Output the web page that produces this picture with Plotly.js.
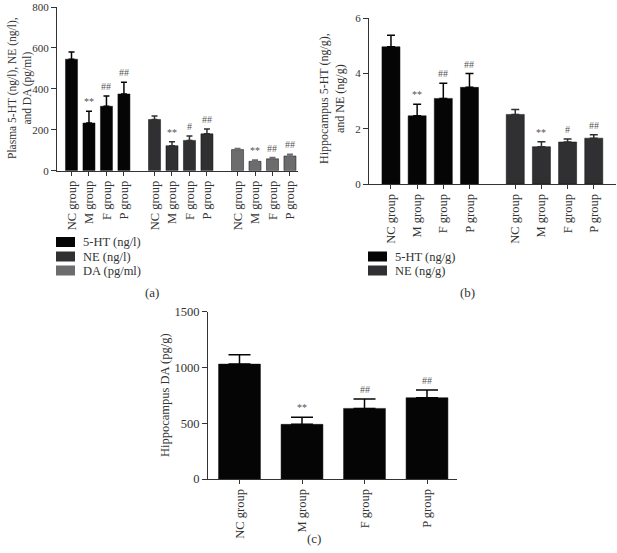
<!DOCTYPE html>
<html>
<head>
<meta charset="utf-8">
<script src="https://cdn.plot.ly/plotly-3.0.1.min.js"></script>
<style>
  html, body { margin: 0; padding: 0; background: #fff; }
  #chart { width: 617px; height: 553px; }
</style>
</head>
<body>
<div id="chart"></div>
<script>
// groups on the x axis
const groups = ['NC group', 'M group', 'F group', 'P group'];

// (a) plasma
const plasmaNames = ['5-HT (ng/l)', 'NE (ng/l)', 'DA (pg/ml)'];
const plasma5ht = [545, 233, 315, 375];
const plasma5htErr = [35, 57, 50, 57];
const plasmaNe = [250, 122, 148, 180];
const plasmaNeErr = [17, 20, 21, 24];
const plasmaDa = [103, 46, 58, 72];
const plasmaDaErr = [6, 6, 6, 9];
const plasmaSig = [
  ['', '**', '##', '##'],
  ['', '**', '#', '##'],
  ['', '**', '##', '##']
];

// (b) hippocampus 5-HT and NE
const hippoNames = ['5-HT (ng/g)', 'NE (ng/g)'];
const hippo5ht = [4.97, 2.47, 3.1, 3.5];
const hippo5htErr = [0.42, 0.42, 0.55, 0.5];
const hippoNe = [2.52, 1.35, 1.52, 1.66];
const hippoNeErr = [0.18, 0.18, 0.11, 0.12];
const hippoSig = [
  ['', '**', '##', '##'],
  ['', '**', '#', '##']
];

// (c) hippocampus DA
const hippoDa = [1030, 490, 633, 729];
const hippoDaErr = [85, 63, 85, 68];
const hippoDaSig = ['', '**', '##', '##'];

const colors = ['#050505', '#303032', '#6c6c6e'];
const FONT = 'Liberation Serif';
const W = 617, H = 553;
const px = x => x / W;
const py = y => 1 - y / H;
const GROUP_STEP = 4.75;

const traces = [];
const annotations = [];
const shapes = [];

function addSeries(vals, errs, sig, gi, color, xa, ya, width, capw) {
  const xs = vals.map((v, j) => gi * GROUP_STEP + j);
  traces.push({
    type: 'bar', x: xs, y: vals, xaxis: xa, yaxis: ya, width: width,
    marker: { color: color, line: { color: '#111', width: 0.5 } },
    error_y: { type: 'data', symmetric: false, array: errs,
               arrayminus: errs.map(() => 0), color: color, thickness: 1.5, width: capw },
    showlegend: false, hoverinfo: 'skip'
  });
  sig.forEach((s, j) => {
    if (!s) return;
    annotations.push({
      xref: xa, yref: ya, x: xs[j], y: vals[j] + errs[j], text: s,
      showarrow: false, yanchor: 'bottom', yshift: 2,
      font: { family: FONT, size: 10, color: '#555' }
    });
  });
}

// panel a
addSeries(plasma5ht, plasma5htErr, plasmaSig[0], 0, colors[0], 'x', 'y', 0.69, 3);
addSeries(plasmaNe, plasmaNeErr, plasmaSig[1], 1, colors[1], 'x', 'y', 0.69, 3);
addSeries(plasmaDa, plasmaDaErr, plasmaSig[2], 2, colors[2], 'x', 'y', 0.69, 3);
// panel b
addSeries(hippo5ht, hippo5htErr, hippoSig[0], 0, colors[0], 'x2', 'y2', 0.69, 4);
addSeries(hippoNe, hippoNeErr, hippoSig[1], 1, colors[1], 'x2', 'y2', 0.69, 4);
// panel c
traces.push({
  type: 'bar', x: groups.map((g, j) => j), y: hippoDa, xaxis: 'x3', yaxis: 'y3', width: 0.67,
  marker: { color: colors[0], line: { color: '#111', width: 0.5 } },
  error_y: { type: 'data', symmetric: false, array: hippoDaErr,
             arrayminus: hippoDaErr.map(() => 0), color: colors[0], thickness: 1.5, width: 11 },
  showlegend: false, hoverinfo: 'skip'
});
hippoDaSig.forEach((s, j) => {
  if (!s) return;
  annotations.push({
    xref: 'x3', yref: 'y3', x: j, y: hippoDa[j] + hippoDaErr[j], text: s,
    showarrow: false, yanchor: 'bottom', yshift: 2,
    font: { family: FONT, size: 10, color: '#555' }
  });
});

// legends drawn by hand (keys + labels)
function legend(names, x0, rows) {
  names.forEach((n, i) => {
    shapes.push({
      type: 'rect', xref: 'paper', yref: 'paper',
      x0: px(x0), x1: px(x0 + 19), y0: py(rows[i] + 5), y1: py(rows[i] - 5),
      fillcolor: colors[i], line: { width: 0 }
    });
    annotations.push({
      xref: 'paper', yref: 'paper', x: px(x0 + 25), y: py(rows[i]), text: n,
      showarrow: false, xanchor: 'left', yanchor: 'middle',
      font: { family: FONT, size: 12.5, color: '#333' }
    });
  });
}
legend(plasmaNames, 56, [242, 256.5, 270.5]);
legend(hippoNames, 368, [256.5, 270.5]);

// y titles and panel labels
function label(text, x, y, angle, size) {
  annotations.push({
    xref: 'paper', yref: 'paper', x: px(x), y: py(y), text: text,
    showarrow: false, xanchor: 'center', yanchor: 'middle', textangle: angle || 0,
    font: { family: FONT, size: size || 13, color: '#333' }
  });
}
label('Plasma 5-HT (ng/l), NE (ng/l),<br>and DA (pg/ml)', 20, 88, -90, 11.5);
label('Hippocampus 5-HT (ng/g),<br>and NE (ng/g)', 332, 99, -90, 12);
label('Hippocampus DA (pg/g)', 165, 395, -90, 12.5);
label('(a)', 152, 292);
label('(b)', 467, 292);
label('(c)', 314, 538);

const tickA = [0, 1, 2].flatMap(gi => groups.map((g, j) => gi * GROUP_STEP + j));
const tickB = [0, 1].flatMap(gi => groups.map((g, j) => gi * GROUP_STEP + j));

const axisBase = {
  showgrid: false, zeroline: false, showline: true, linecolor: '#333', linewidth: 1,
  ticks: 'outside', ticklen: 4, tickcolor: '#333', fixedrange: true,
  tickfont: { family: FONT, size: 12.5, color: '#333' }
};
const yTickFont = { family: FONT, size: 11, color: '#333' };

const layout = {
  width: W, height: H,
  margin: { l: 0, r: 0, t: 0, b: 0 },
  paper_bgcolor: '#fff', plot_bgcolor: '#fff',
  showlegend: false,
  bargap: 0,
  xaxis: Object.assign({}, axisBase, {
    domain: [px(57), px(298)], range: [-0.83, 12.96], anchor: 'y',
    tickmode: 'array', tickvals: tickA, ticktext: tickA.map((v, i) => groups[i % 4]), tickangle: -90
  }),
  yaxis: Object.assign({}, axisBase, {
    domain: [py(170.7), py(7)], range: [0, 800], dtick: 200, anchor: 'x', ticklen: 5,
    tickfont: yTickFont
  }),
  xaxis2: Object.assign({}, axisBase, {
    domain: [px(369), px(616)], range: [-0.84, 8.6], anchor: 'y2',
    tickmode: 'array', tickvals: tickB, ticktext: tickB.map((v, i) => groups[i % 4]), tickangle: -90
  }),
  yaxis2: Object.assign({}, axisBase, {
    domain: [py(184), py(18.3)], range: [0, 6], dtick: 2, anchor: 'x2', ticklen: 5,
    tickfont: yTickFont
  }),
  xaxis3: Object.assign({}, axisBase, {
    domain: [px(208), px(457)], range: [-0.504, 3.48], anchor: 'y3',
    tickmode: 'array', tickvals: [0, 1, 2, 3], ticktext: groups, tickangle: -90
  }),
  yaxis3: Object.assign({}, axisBase, {
    domain: [py(479), py(311.7)], range: [0, 1500], dtick: 500, anchor: 'x3', ticklen: 5
  }),
  annotations: annotations,
  shapes: shapes
};

Plotly.newPlot('chart', traces, layout, { staticPlot: true, displayModeBar: false });
</script>
</body>
</html>
